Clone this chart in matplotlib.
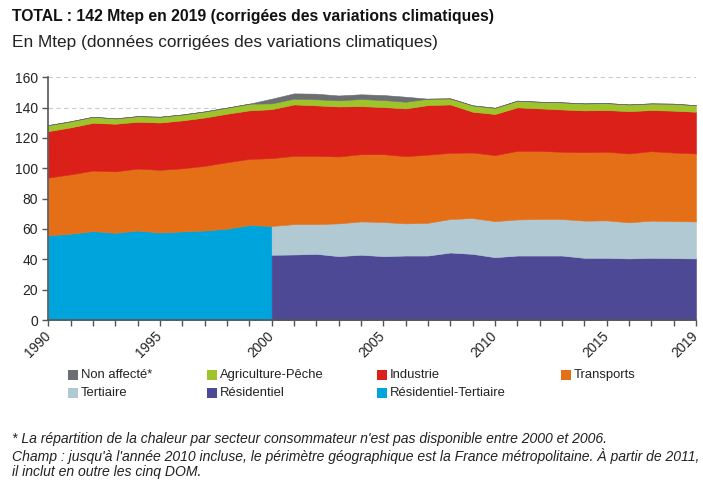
import numpy as np
import matplotlib
matplotlib.use("Agg")
import matplotlib.pyplot as plt
from matplotlib.patches import Rectangle

plt.rcParams['font.family'] = ['Liberation Sans', 'DejaVu Sans']

years = np.arange(1990, 2020)

# Résidentiel-Tertiaire (1990-2000)
res_tert = [55.8, 56.9, 58.6, 57.5, 59.0, 57.7, 58.4, 59.0, 60.2, 62.6, 62.0]
# Résidentiel and Tertiaire (2000-2019)
residentiel = [43.0, 43.2, 43.6, 42.1, 43.0, 42.1, 42.5, 42.5, 44.5, 43.6,
               41.4, 42.5, 42.5, 42.5, 41.0, 41.0, 40.6, 41.0, 40.8, 40.6]
tertiaire = [19.0, 20.0, 19.6, 21.6, 22.0, 22.5, 21.2, 21.6, 22.1, 23.6,
             23.8, 23.8, 24.1, 24.1, 24.5, 24.7, 23.8, 24.5, 24.4, 24.4]
transports = [38.1, 39.1, 39.9, 40.5, 40.8, 41.3, 41.6, 42.6, 43.8, 43.6,
              44.7, 45.0, 45.0, 44.1, 44.3, 44.7, 44.3, 44.9, 43.6, 43.2,
              43.5, 45.2, 44.9, 44.3, 45.1, 45.2, 45.4, 45.8, 45.2, 44.8]
industrie = [30.6, 31.0, 31.5, 31.4, 30.9, 31.2, 31.6, 31.9, 32.0, 32.0,
             32.3, 33.9, 33.3, 33.0, 31.7, 31.1, 31.5, 32.7, 31.9, 26.9,
             27.1, 28.7, 28.0, 27.9, 27.6, 27.5, 27.9, 27.1, 27.6, 27.5]
agriculture = [4.0, 4.0, 4.0, 3.5, 3.7, 3.8, 3.9, 4.0, 4.0, 4.4,
               3.8, 3.8, 4.0, 4.0, 4.7, 4.6, 4.4, 4.2, 4.0, 4.2,
               4.1, 4.4, 4.4, 4.7, 4.6, 4.6, 4.4, 4.4, 4.6, 4.3]
non_affecte = [0, 0, 0, 0, 0, 0, 0, 0, 0, 0,
               3.1, 3.5, 3.7, 3.2, 3.1, 3.3, 3.3, 0, 0, 0,
               0, 0, 0, 0, 0, 0, 0, 0, 0, 0]

labels = ["Non affecté*", "Agriculture-Pêche", "Industrie", "Transports",
          "Tertiaire", "Résidentiel", "Résidentiel-Tertiaire"]
colors = {"Non affecté*": "#6b6e72", "Agriculture-Pêche": "#9fc32b",
          "Industrie": "#da2019", "Transports": "#e56f17",
          "Tertiaire": "#b0c9d3", "Résidentiel": "#4e4995",
          "Résidentiel-Tertiaire": "#00a4dc"}
xticks = [1990, 1995, 2000, 2005, 2010, 2015, 2019]

fig = plt.figure(figsize=(7.03, 4.80), dpi=100)
ax = fig.add_axes([48.3 / 703, 1 - 320 / 480, (696 - 48.3) / 703, (320 - 77.3) / 480])

y_rt_years = years[:11]
y_new = years[10:]
res = np.array(residentiel)
ter = np.array(tertiaire)
kw = dict(linewidth=0.4)
ax.fill_between(y_rt_years, 0, res_tert, color=colors["Résidentiel-Tertiaire"], **kw)
ax.fill_between(y_new, 0, res, color=colors["Résidentiel"], **kw)
ax.fill_between(y_new, res, res + ter, color=colors["Tertiaire"], **kw)

base = np.concatenate([np.array(res_tert[:10]), res + ter])
for name, vals in [("Transports", transports), ("Industrie", industrie),
                   ("Agriculture-Pêche", agriculture), ("Non affecté*", non_affecte)]:
    v = np.array(vals, dtype=float)
    ax.fill_between(years, base, base + v, color=colors[name], **kw)
    base = base + v

ax.set_xlim(1990, 2019)
ax.set_ylim(0, 160)
ax.set_yticks(np.arange(0, 161, 20))
ax.set_xticks(years, minor=True)
ax.set_xticks(xticks)
ax.set_xticklabels([str(x) for x in xticks], rotation=45, ha='right', va='center',
                   rotation_mode='anchor', fontsize=9.8, color='#222222')
ax.tick_params(axis='y', labelsize=10, labelcolor='#222222', length=4,
               color='#555555', width=1)
ax.tick_params(axis='x', which='both', length=4, color='#555555', width=1)
ax.tick_params(axis='x', which='major', pad=6)
ax.yaxis.grid(True, linestyle=(0, (4, 3)), color='#cccccc', linewidth=0.8)
ax.set_axisbelow(True)
for s in ['top', 'right']:
    ax.spines[s].set_visible(False)
for s in ['left', 'bottom']:
    ax.spines[s].set_color('#555555')
    ax.spines[s].set_linewidth(1.2)

fig.text(12 / 703, 1 - 17 / 480, "TOTAL : 142 Mtep en 2019 (corrigées des variations climatiques)",
         fontsize=11.3, fontweight='bold', va='center', ha='left', color='#111111')
fig.text(12 / 703, 1 - 43 / 480, "En Mtep (données corrigées des variations climatiques)",
         fontsize=12.4, va='center', ha='left', color='#222222')

# legend (row-major)
leg_x = [68, 207, 377, 561]
leg_y = [375, 393]
for i, name in enumerate(labels):
    r, c = divmod(i, 4)
    x0, yc = leg_x[c], leg_y[r]
    fig.patches.append(Rectangle((x0 / 703, 1 - (yc + 5) / 480), 10 / 703, 10 / 480,
                                 transform=fig.transFigure, facecolor=colors[name],
                                 edgecolor='none'))
    fig.text((x0 + 13) / 703, 1 - yc / 480, name, fontsize=9.4, va='center',
             ha='left', color='#222222')

notes = ["* La répartition de la chaleur par secteur consommateur n'est pas disponible entre 2000 et 2006.",
         "Champ : jusqu'à l'année 2010 incluse, le périmètre géographique est la France métropolitaine. À partir de 2011,",
         "il inclut en outre les cinq DOM."]
for k, t in enumerate(notes):
    fig.text(12 / 703, 1 - (439 + k * 16.5) / 480, t, fontsize=10.1, style='italic',
             va='center', ha='left', color='#222222')

fig.savefig("out.png", dpi=100)
